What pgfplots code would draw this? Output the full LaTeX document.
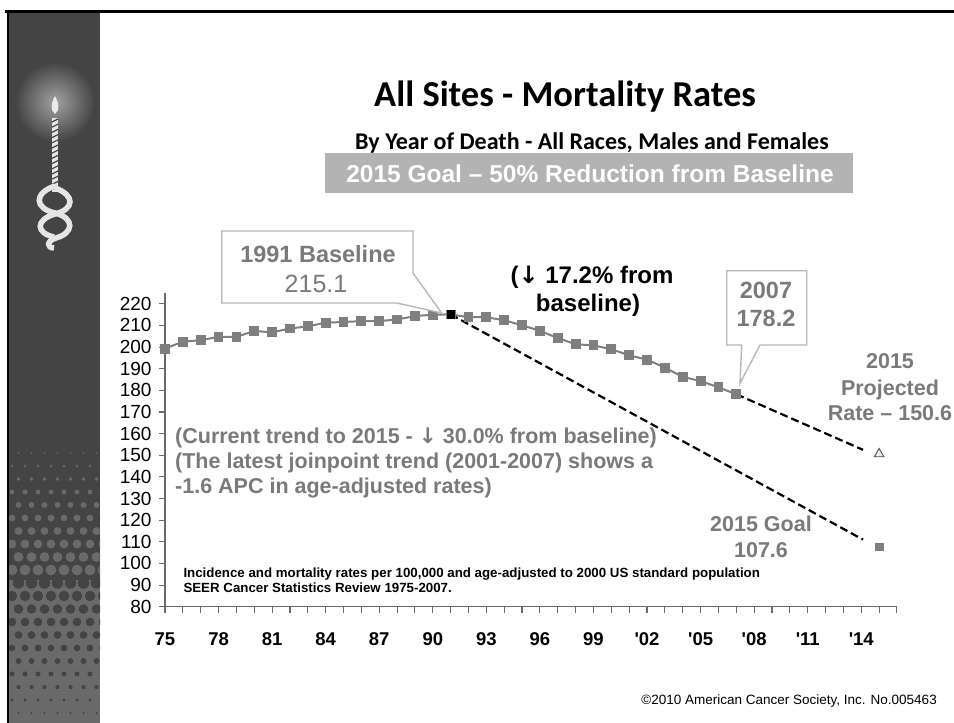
\documentclass[border=0pt]{standalone}
\usepackage{fontspec}
\setmainfont{Liberation Sans}
\newfontfamily\calibri{Carlito}
\newfontfamily\dejavu{DejaVu Sans}
\usepackage{pgfplots}
\usepackage{pgfplotstable}
\pgfplotsset{compat=1.18}

\definecolor{side}{HTML}{444444}
\definecolor{sidelt}{HTML}{6A6A6A}
\definecolor{ser}{HTML}{7F7F7F}
\definecolor{txtg}{HTML}{7A7A7A}
\definecolor{boxg}{HTML}{B3B3B3}
\definecolor{callb}{HTML}{B8B8B8}
\definecolor{axg}{HTML}{6A6A6A}

% age-adjusted mortality rate, all sites, per 100,000
\pgfplotstableread{
year rate
1975 199.3
1976 202.5
1977 203.2
1978 204.7
1979 204.7
1980 207.5
1981 206.8
1982 208.6
1983 209.6
1984 211.3
1985 211.6
1986 212.0
1987 212.0
1988 212.8
1989 214.3
1990 215.0
1991 215.1
1992 213.8
1993 213.8
1994 212.4
1995 210.1
1996 207.5
1997 204.2
1998 201.3
1999 200.8
2000 199.0
2001 196.2
2002 194.2
2003 190.5
2004 186.2
2005 184.3
2006 181.4
2007 178.2
}\rates

\newcommand{\fs}[1]{\fontsize{#1}{#1}\selectfont}
\newcommand{\dn}{{\dejavu\bfseries ↓}}
\newcommand{\q}{\textquotesingle}

\begin{document}
\begin{tikzpicture}[x=1pt,y=-1pt]
\path[use as bounding box, fill=white] (0,0) rectangle (954,723);

% sidebar
\fill[side] (9,12) rectangle (100,723);
\fill[sidelt] (9,580) rectangle (100,723);
\begin{scope}
  \clip (9,12) rectangle (100,723);
  \shade[inner color=white!50!side, outer color=side] (55,102) circle (40);
  \foreach \r [evaluate=\r as \yy using 440+\r*13] in {0,...,21} {
    \pgfmathsetmacro\rad{\yy<580 ? 0.4+(\yy-440)/140*5.4 : 5.8-(\yy-580)/143*5.0}
    \pgfmathtruncatemacro\isup{\yy<580}
    \pgfmathsetmacro\off{mod(\r,2)*6.5}
    \foreach \c in {0,...,7} {
      \ifnum\isup=1
        \fill[sidelt] (12+\c*13+\off,\yy) circle (\rad);
      \else
        \fill[side] (12+\c*13+\off,\yy) circle (\rad);
      \fi
    }
  }
\end{scope}
% candle
\fill[white!85!gray] (55,96) .. controls (59,104) and (60,110) .. (55,114)
  .. controls (50,110) and (51,104) .. (55,96);
\draw[line width=6pt, white!80!gray] (55,118) -- (55,192);
\foreach \k in {0,...,13}
  \draw[line width=1.2pt, side] (52,122+\k*5.2) -- (58,119+\k*5.2);
\draw[line width=5.5pt, white!80!gray] (55,186) .. controls (34,193) and (34,208) .. (55,213)
  .. controls (75,218) and (74,233) .. (56,238) .. controls (46,241) and (47,248) .. (54,248);
\draw[line width=5.5pt, white!80!gray] (55,188) .. controls (75,195) and (75,209) .. (55,214)
  .. controls (35,220) and (36,233) .. (54,237);
% frame
\draw[black, line width=3pt] (5,11) -- (954,11);
\draw[black, line width=2.2pt] (8,10) -- (8,723);

% titles
\node[anchor=base, font=\calibri\bfseries\fs{36.5}] at (565,106) {All Sites - Mortality Rates};
\node[anchor=base, font=\calibri\bfseries\fs{24}] at (592,149) {By Year of Death - All Races, Males and Females};
\fill[boxg] (325,153) rectangle (853,193);
\node[anchor=base, white, font=\bfseries\fs{24.5}] at (590,182) {2015 Goal – 50\% Reduction from Baseline};

\begin{axis}[
  at={(165pt,-606.7pt)}, anchor=south west,
  scale only axis, width=732pt, height=313.7pt,
  xmin=1975, xmax=2016, ymin=80, ymax=225,
  axis x line=bottom, axis y line=left,
  axis line style={axg, line width=1.3pt, -},
  xtick={1975,1978,...,2014},
  xticklabels={75,78,81,84,87,90,93,96,99,\q02,\q05,\q08,\q11,\q14},
  minor xtick={1975,...,2016},
  ytick={80,90,...,220},
  tick align=outside, major tick length=6pt, minor tick length=6pt,
  tick style={axg, line width=1.1pt},
  xticklabel style={font=\bfseries\fs{18.5}, text height=13.3pt, text depth=0pt, yshift=-16pt},
  yticklabel style={font=\fs{19}, xshift=-4pt},
  /pgf/number format/assume math mode=true,
  clip=false,
]
\addplot[ser, line width=2pt, mark=square*, mark size=3.9pt, mark options={ser, solid}]
  table[x=year, y=rate] {\rates};
\addplot[black, line width=2.2pt, dash pattern=on 8pt off 4pt] coordinates {(1991,215.1) (2014.1,111.0)};
\addplot[black, line width=2.2pt, dash pattern=on 8pt off 4pt] coordinates {(2007,178.2) (2014.1,152.5)};
\addplot[only marks, mark=square*, black, mark size=3.9pt] coordinates {(1991,215.1)};
\addplot[only marks, mark=square*, ser, mark size=3.6pt] coordinates {(2015,107.6)};
\addplot[only marks, mark=triangle*, mark size=5.5pt,
  mark options={fill=gray!15, draw=black!70, line width=0.9pt}] coordinates {(2015,150.6)};
\end{axis}

% callouts
\draw[callb, line width=1.4pt, fill=white] (221.7,231) -- (413,231) -- (413,273)
  -- (441.7,313) -- (396.7,303) -- (221.7,303) -- cycle;
\node[anchor=base, txtg, font=\bfseries\fs{23.5}] at (318,262) {1991 Baseline};
\node[anchor=base, txtg, font=\fs{25}] at (316,292) {215.1};

\draw[callb, line width=1.4pt, fill=white] (726.7,270.7) -- (806.7,270.7) -- (806.7,345)
  -- (760,345) -- (740,383.3) -- (741.7,345) -- (726.7,345) -- cycle;
\node[anchor=base, txtg, font=\bfseries\fs{23.5}] at (766,298.3) {2007};
\node[anchor=base, txtg, font=\bfseries\fs{23.5}] at (766,326.7) {178.2};

\node[anchor=base, font=\bfseries\fs{24}] at (592,283) {(\dn{} 17.2\% from};
\node[anchor=base, font=\bfseries\fs{24}] at (588,311.7) {baseline)};

\node[anchor=base, txtg, font=\bfseries\fs{21.5}] at (890,368) {2015};
\node[anchor=base, txtg, font=\bfseries\fs{21.5}] at (890,395.7) {Projected};
\node[anchor=base, txtg, font=\bfseries\fs{21.5}] at (890,420.7) {Rate – 150.6};

\node[anchor=base, txtg, font=\bfseries\fs{21.5}] at (761,531.7) {2015 Goal};
\node[anchor=base, txtg, font=\bfseries\fs{21.5}] at (761,557.3) {107.6};

\begin{scope}[every node/.style={anchor=base west, inner sep=0pt}]
\node[txtg, font=\bfseries\fs{21.5}] at (175,443.3) {(Current trend to 2015 - \dn{} 30.0\% from baseline)};
\node[txtg, font=\bfseries\fs{21.5}] at (175,468.3) {(The latest joinpoint trend (2001-2007) shows a};
\node[txtg, font=\bfseries\fs{21.5}] at (175,493.3) {-1.6 APC in age-adjusted rates)};
\node[font=\bfseries\fs{13.3}] at (183.3,577.7) {Incidence and mortality rates per 100,000 and age-adjusted to 2000 US standard population};
\node[font=\bfseries\fs{13.3}] at (183.3,592.3) {SEER Cancer Statistics Review 1975-2007.};
\node[anchor=base east, font=\fs{13.5}] at (937,704) {©2010 American Cancer Society, Inc. No.005463};
\end{scope}
\end{tikzpicture}
\end{document}
